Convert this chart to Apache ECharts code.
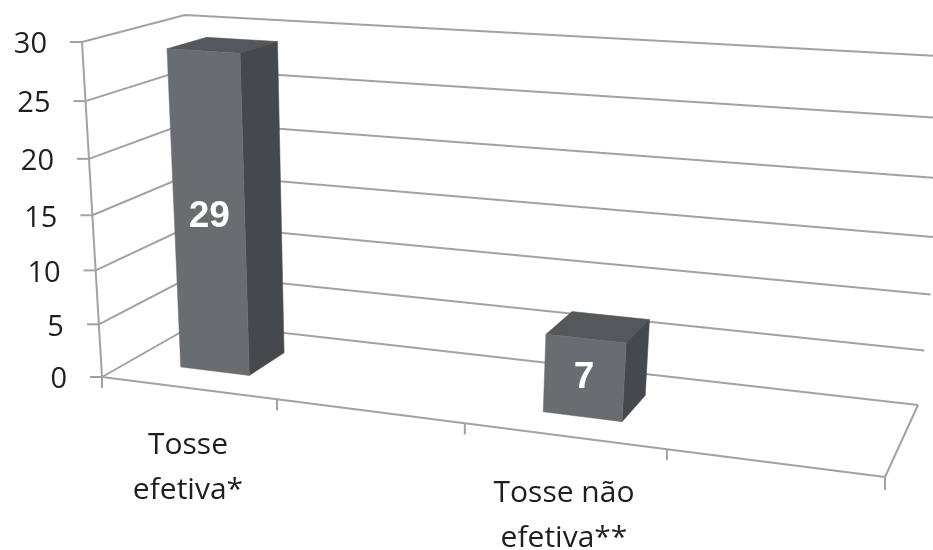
<!DOCTYPE html>
<html><head><meta charset="utf-8">
<script src="https://cdn.jsdelivr.net/npm/echarts@6/dist/echarts.min.js"></script>
<style>html,body{margin:0;padding:0;background:#fff}#c{width:933px;height:550px}</style>
</head><body><div id="c"></div>
<script>
// ---- data ----
const categories = ['Tosse\nefetiva*', '', 'Tosse não\nefetiva**', ''];
const values = [29, null, 7, null];
const yTicks = [0, 5, 10, 15, 20, 25, 30];
const yMin = 0, yMax = 30, yStep = 5;

// ---- projection / style constants ----
const GRID = {left: 0, top: 0, width: 400, height: 300};
const FRONT = [[102,377],[885,477],[927,93],[82,42]];
const BACK  = [[197,323],[918,405],[958,57],[185,15]];
const BAR_W = 0.4, Z_FRONT = 0.3, Z_BACK = 0.7;
const LINE = '#a2a2a2';
const TXT = '#1e1e1e';

function squareToQuad(q) {
  const [x0,y0]=q[0],[x1,y1]=q[1],[x2,y2]=q[2],[x3,y3]=q[3];
  const dx1=x1-x2, dx2=x3-x2, dx3=x0-x1+x2-x3;
  const dy1=y1-y2, dy2=y3-y2, dy3=y0-y1+y2-y3;
  const den = dx1*dy2-dx2*dy1;
  const g=(dx3*dy2-dx2*dy3)/den, h=(dx1*dy3-dx3*dy1)/den;
  const a=x1-x0+g*x1, b=x3-x0+h*x3, c=x0;
  const d=y1-y0+g*y1, e=y3-y0+h*y3, f=y0;
  return (u,v)=>{const w=g*u+h*v+1; return [(a*u+b*v+c)/w,(d*u+e*v+f)/w];};
}
const H0 = squareToQuad(FRONT), H1 = squareToQuad(BACK);
function proj(s,t,z){ const a=H0(s,t), b=H1(s,t); return [a[0]+(b[0]-a[0])*z, a[1]+(b[1]-a[1])*z]; }
function flatST(api, cat, frac, val) {
  const c = api.coord([cat, val]);
  const bw = api.size([1, 0])[0];
  return [(c[0] + frac*bw - GRID.left)/GRID.width, (GRID.top + GRID.height - c[1])/GRID.height];
}
const lineStyle = {stroke: LINE, lineWidth: 2, fill: null};

const chart = echarts.init(document.getElementById('c'), null, {renderer: 'canvas'});
chart.setOption({
  animation: false,
  backgroundColor: '#fff',
  grid: Object.assign({show: false}, GRID),
  xAxis: {type: 'category', data: categories, show: false},
  yAxis: {type: 'value', min: yMin, max: yMax, interval: yStep, show: false},
  series: [
    { // walls + y axis ticks/labels
      type: 'custom', clip: false, z: 1,
      data: yTicks.map(v => [0, v]),
      encode: {x: 0, y: 1},
      renderItem(params, api) {
        const v = api.value(1);
        const [s0, t] = flatST(api, 0, -0.5, v);
        const [s1] = flatST(api, categories.length - 1, 0.5, v);
        const a = proj(s0,t,0), b = proj(s0,t,1), c = proj(s1,t,1);
        return {type: 'group', children: [
          {type: 'polyline', shape: {points: [a,b,c]}, style: lineStyle},
          {type: 'line', shape: {x1: a[0]-12, y1: a[1], x2: a[0], y2: a[1]}, style: lineStyle},
          {type: 'text', style: {text: String(v), x: a[0]-35, y: a[1]+3, align: 'right', verticalAlign: 'middle',
            fill: TXT, fontSize: 29, fontFamily: 'Open Sans'}}
        ]};
      }
    },
    { // floor, x ticks, category labels, vertical axis
      type: 'custom', clip: false, z: 2,
      data: categories.map((c, i) => [i, 0]),
      encode: {x: 0, y: 1},
      renderItem(params, api) {
        const i = api.value(0);
        const [sL, t0] = flatST(api, i, -0.5, 0);
        const [sR] = flatST(api, i, 0.5, 0);
        const [sC] = flatST(api, i, 0, 0);
        const pL = proj(sL,t0,0), pR = proj(sR,t0,0), pC = proj(sC,t0,0);
        const ch = [
          {type: 'line', shape: {x1: pL[0], y1: pL[1], x2: pR[0], y2: pR[1]}, style: lineStyle},
          {type: 'line', shape: {x1: pL[0], y1: pL[1], x2: pL[0], y2: pL[1]+11}, style: lineStyle},
          {type: 'text', style: {text: categories[i], x: pC[0], y: pC[1]+35, align: 'center', verticalAlign: 'top',
            lineHeight: 45, fill: TXT, fontSize: 30, fontFamily: 'Open Sans'}}
        ];
        if (i === 0) {
          const [, t1] = flatST(api, 0, -0.5, yMax);
          const top = proj(sL, t1, 0);
          ch.push({type: 'line', shape: {x1: top[0], y1: top[1], x2: pL[0], y2: pL[1]}, style: lineStyle});
        }
        if (i === categories.length - 1) {
          const bR = proj(sR, t0, 1);
          ch.push({type: 'line', shape: {x1: pR[0], y1: pR[1], x2: pR[0], y2: pR[1]+13}, style: lineStyle});
          ch.push({type: 'line', shape: {x1: pR[0], y1: pR[1], x2: bR[0], y2: bR[1]}, style: lineStyle});
        }
        return {type: 'group', children: ch};
      }
    },
    { // 3D bars
      type: 'custom', clip: false, z: 3,
      data: categories.map((c, i) => [i, values[i]]).filter(d => d[1] != null),
      encode: {x: 0, y: 1},
      renderItem(params, api) {
        const i = api.value(0), v = api.value(1);
        const [s0, t0] = flatST(api, i, -BAR_W/2, 0);
        const [s1, t1] = flatST(api, i, BAR_W/2, v);
        const [sc, tm] = flatST(api, i, 0, v/2);
        const FBL = proj(s0,t0,Z_FRONT), FBR = proj(s1,t0,Z_FRONT), FTR = proj(s1,t1,Z_FRONT), FTL = proj(s0,t1,Z_FRONT);
        const BTL = proj(s0,t1,Z_BACK), BTR = proj(s1,t1,Z_BACK), BBR = proj(s1,t0,Z_BACK);
        const lab = proj(sc, tm, Z_FRONT);
        return {type: 'group', children: [
          {type: 'polygon', shape: {points: [FTL,FTR,BTR,BTL]}, style: {fill: '#55585a', stroke: '#55585a', lineWidth: 0.5}},
          {type: 'polygon', shape: {points: [FBR,BBR,BTR,FTR]}, style: {fill: '#46494b', stroke: '#46494b', lineWidth: 0.5}},
          {type: 'polygon', shape: {points: [FBL,FBR,FTR,FTL]}, style: {fill: '#6a6d6f', stroke: '#6a6d6f', lineWidth: 0.5}},
          {type: 'text', z2: 10, style: {text: String(v), x: lab[0], y: lab[1], align: 'center', verticalAlign: 'middle',
            fill: '#ffffff', fontSize: 37, fontWeight: 'bold', fontFamily: 'Liberation Sans'}}
        ]};
      }
    }
  ]
});
</script></body></html>
